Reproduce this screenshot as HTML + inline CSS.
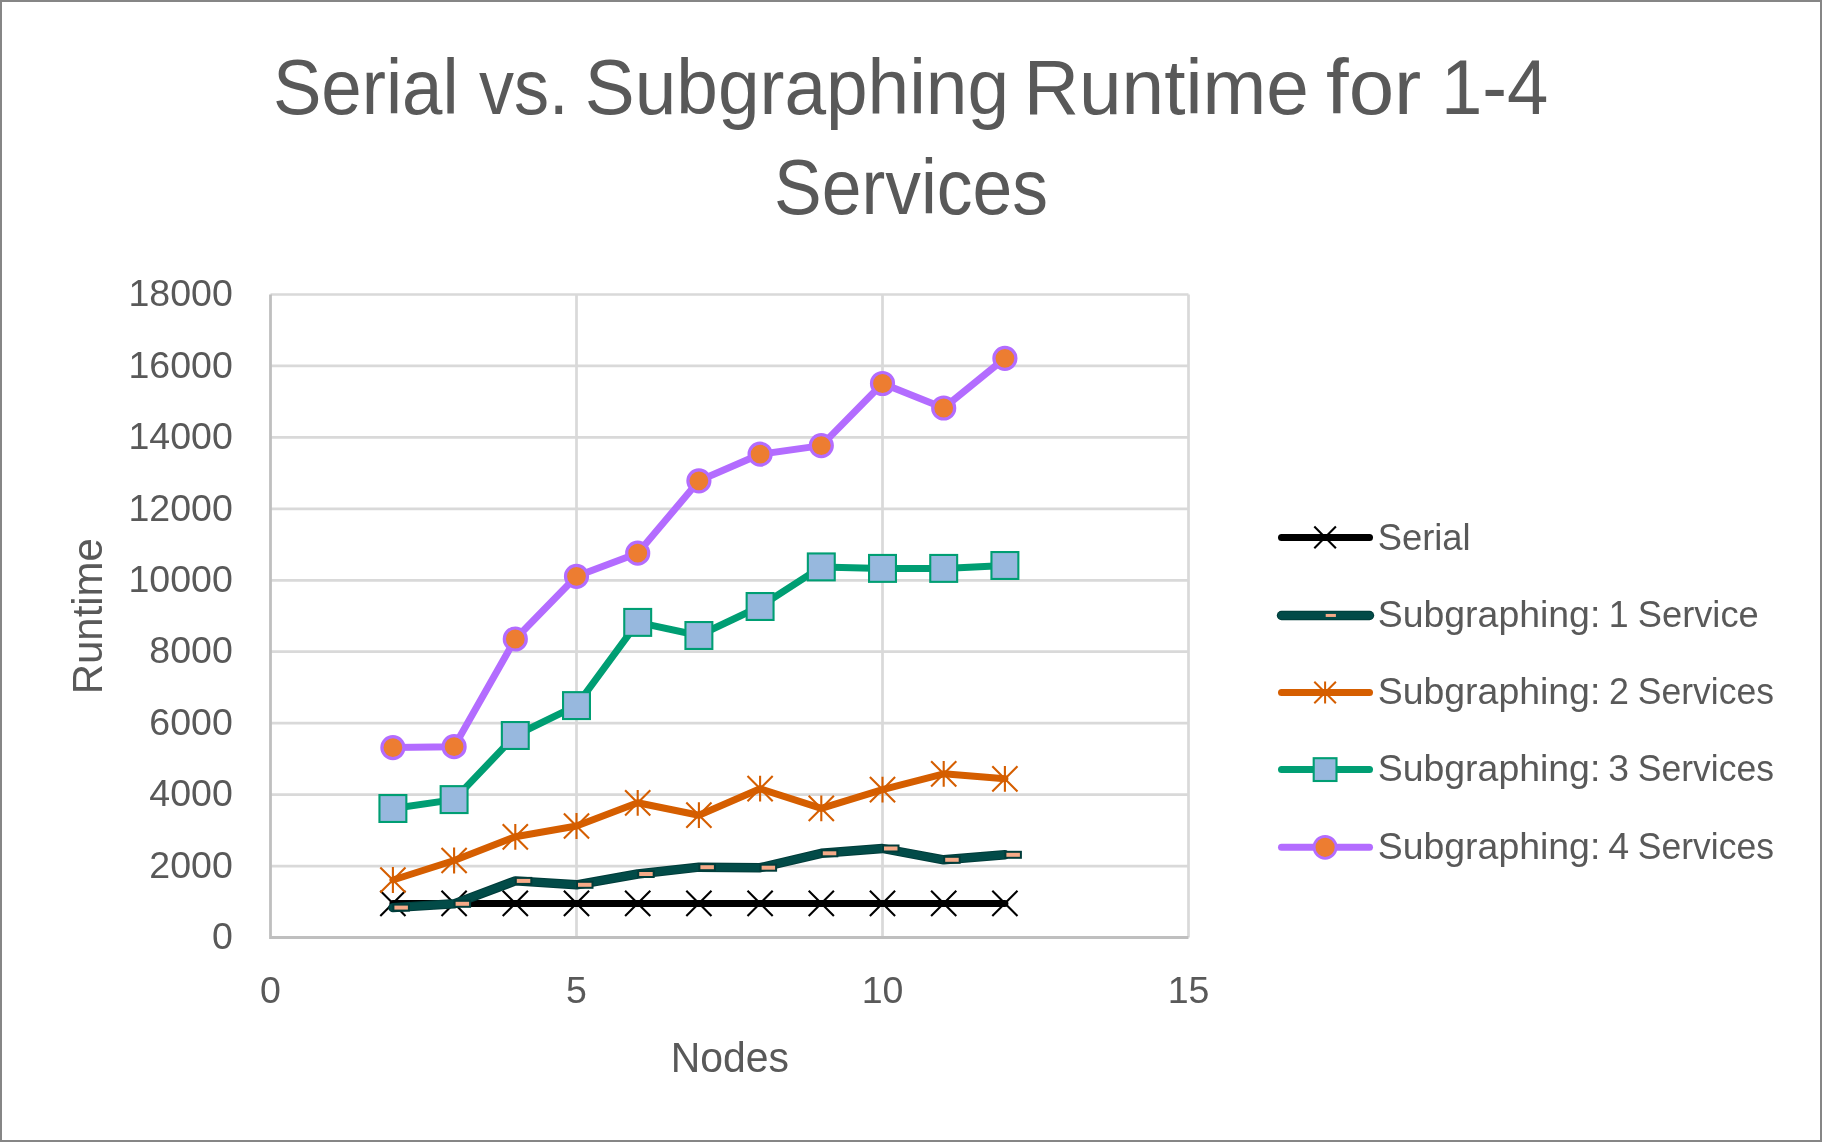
<!DOCTYPE html><html><head><meta charset="utf-8"><title>Serial vs. Subgraphing Runtime</title><style>html,body{margin:0;padding:0;background:#fff;width:1822px;height:1142px;overflow:hidden}svg{display:block;will-change:transform}text{font-family:"Liberation Sans",sans-serif;fill:#595959}</style></head><body>
<svg xmlns="http://www.w3.org/2000/svg" width="1822" height="1142" viewBox="0 0 1822 1142">
<rect x="0" y="0" width="1822" height="1142" fill="#fff"/>
<rect x="1" y="1" width="1820" height="1140" fill="none" stroke="#868686" stroke-width="2"/>
<text x="272.93" y="114.40" font-size="77" textLength="185.67" lengthAdjust="spacingAndGlyphs">Serial</text>
<text x="479.00" y="114.40" font-size="77" textLength="89.54" lengthAdjust="spacingAndGlyphs">vs.</text>
<text x="584.81" y="114.40" font-size="77" textLength="424.26" lengthAdjust="spacingAndGlyphs">Subgraphing</text>
<text x="1023.73" y="114.40" font-size="77" textLength="285.08" lengthAdjust="spacingAndGlyphs">Runtime</text>
<text x="1326.04" y="114.40" font-size="77" textLength="95.27" lengthAdjust="spacingAndGlyphs">for</text>
<text x="1440.91" y="114.40" font-size="77" textLength="107.41" lengthAdjust="spacingAndGlyphs">1-4</text>
<text x="774.09" y="213.90" font-size="77" textLength="273.84" lengthAdjust="spacingAndGlyphs">Services</text>
<text x="1377.68" y="549.80" font-size="37.8" textLength="92.96" lengthAdjust="spacingAndGlyphs">Serial</text>
<text x="1377.72" y="627.00" font-size="37.8" textLength="222.62" lengthAdjust="spacingAndGlyphs">Subgraphing:</text>
<text x="1608.87" y="627.00" font-size="37.8" textLength="19.85" lengthAdjust="spacingAndGlyphs">1</text>
<text x="1637.78" y="627.00" font-size="37.8" textLength="120.98" lengthAdjust="spacingAndGlyphs">Service</text>
<text x="1377.72" y="704.20" font-size="37.8" textLength="222.62" lengthAdjust="spacingAndGlyphs">Subgraphing:</text>
<text x="1609.01" y="704.20" font-size="37.8" textLength="19.92" lengthAdjust="spacingAndGlyphs">2</text>
<text x="1637.82" y="704.20" font-size="37.8" textLength="136.06" lengthAdjust="spacingAndGlyphs">Services</text>
<text x="1377.72" y="781.40" font-size="37.8" textLength="222.62" lengthAdjust="spacingAndGlyphs">Subgraphing:</text>
<text x="1608.22" y="781.40" font-size="37.8" textLength="20.78" lengthAdjust="spacingAndGlyphs">3</text>
<text x="1637.82" y="781.40" font-size="37.8" textLength="136.06" lengthAdjust="spacingAndGlyphs">Services</text>
<text x="1377.72" y="858.60" font-size="37.8" textLength="222.62" lengthAdjust="spacingAndGlyphs">Subgraphing:</text>
<text x="1608.21" y="858.60" font-size="37.8" textLength="20.92" lengthAdjust="spacingAndGlyphs">4</text>
<text x="1637.82" y="858.60" font-size="37.8" textLength="136.06" lengthAdjust="spacingAndGlyphs">Services</text>
<text x="670.70" y="1071.60" font-size="42.3" textLength="118.22" lengthAdjust="spacingAndGlyphs">Nodes</text>
<path d="M270.5 866.06H1188.5M270.5 794.61H1188.5M270.5 723.17H1188.5M270.5 651.72H1188.5M270.5 580.28H1188.5M270.5 508.83H1188.5M270.5 437.39H1188.5M270.5 365.94H1188.5M270.5 294.50H1188.5M576.5 294.5V937.5M882.5 294.5V937.5M1188.5 294.5V937.5" stroke="#D9D9D9" stroke-width="2.7" fill="none"/>
<path d="M270.5 294.5V937.5H1188.5" stroke="#BFBFBF" stroke-width="2.8" fill="none"/>
<text x="232.8" y="949.2" font-size="37.5" text-anchor="end">0</text>
<text x="232.8" y="877.8" font-size="37.5" text-anchor="end">2000</text>
<text x="232.8" y="806.3" font-size="37.5" text-anchor="end">4000</text>
<text x="232.8" y="734.9" font-size="37.5" text-anchor="end">6000</text>
<text x="232.8" y="663.4" font-size="37.5" text-anchor="end">8000</text>
<text x="232.8" y="592.0" font-size="37.5" text-anchor="end">10000</text>
<text x="232.8" y="520.5" font-size="37.5" text-anchor="end">12000</text>
<text x="232.8" y="449.1" font-size="37.5" text-anchor="end">14000</text>
<text x="232.8" y="377.6" font-size="37.5" text-anchor="end">16000</text>
<text x="232.8" y="306.2" font-size="37.5" text-anchor="end">18000</text>
<text x="270.5" y="1002.8" font-size="37.5" text-anchor="middle">0</text>
<text x="576.5" y="1002.8" font-size="37.5" text-anchor="middle">5</text>
<text x="882.5" y="1002.8" font-size="37.5" text-anchor="middle">10</text>
<text x="1188.5" y="1002.8" font-size="37.5" text-anchor="middle">15</text>
<text transform="translate(102.4 616.2) rotate(-90)" x="0" y="0" font-size="42.3" text-anchor="middle" textLength="156" lengthAdjust="spacingAndGlyphs">Runtime</text>
<polyline points="392.9,903.4 454.1,903.4 515.3,903.4 576.5,903.4 637.7,903.4 698.9,903.4 760.1,903.4 821.3,903.4 882.5,903.4 943.7,903.4 1004.9,903.4" fill="none" stroke="#000" stroke-width="7" stroke-linejoin="round" stroke-linecap="round"/>
<path d="M380.30 890.80L405.50 916.00M380.30 916.00L405.50 890.80" stroke="#000" stroke-width="2.1" fill="none"/>
<path d="M441.50 890.80L466.70 916.00M441.50 916.00L466.70 890.80" stroke="#000" stroke-width="2.1" fill="none"/>
<path d="M502.70 890.80L527.90 916.00M502.70 916.00L527.90 890.80" stroke="#000" stroke-width="2.1" fill="none"/>
<path d="M563.90 890.80L589.10 916.00M563.90 916.00L589.10 890.80" stroke="#000" stroke-width="2.1" fill="none"/>
<path d="M625.10 890.80L650.30 916.00M625.10 916.00L650.30 890.80" stroke="#000" stroke-width="2.1" fill="none"/>
<path d="M686.30 890.80L711.50 916.00M686.30 916.00L711.50 890.80" stroke="#000" stroke-width="2.1" fill="none"/>
<path d="M747.50 890.80L772.70 916.00M747.50 916.00L772.70 890.80" stroke="#000" stroke-width="2.1" fill="none"/>
<path d="M808.70 890.80L833.90 916.00M808.70 916.00L833.90 890.80" stroke="#000" stroke-width="2.1" fill="none"/>
<path d="M869.90 890.80L895.10 916.00M869.90 916.00L895.10 890.80" stroke="#000" stroke-width="2.1" fill="none"/>
<path d="M931.10 890.80L956.30 916.00M931.10 916.00L956.30 890.80" stroke="#000" stroke-width="2.1" fill="none"/>
<path d="M992.30 890.80L1017.50 916.00M992.30 916.00L1017.50 890.80" stroke="#000" stroke-width="2.1" fill="none"/>
<polyline points="392.9,907.6 454.1,903.8 515.3,880.9 576.5,884.8 637.7,874.0 698.9,867.2 760.1,867.7 821.3,853.3 882.5,848.5 943.7,859.8 1004.9,854.8" fill="none" stroke="#013C3A" stroke-width="9.4" stroke-linejoin="round" stroke-linecap="round"/>
<polyline points="392.9,907.6 454.1,903.8 515.3,880.9 576.5,884.8 637.7,874.0 698.9,867.2 760.1,867.7 821.3,853.3 882.5,848.5 943.7,859.8 1004.9,854.8" fill="none" stroke="#024B48" stroke-width="7.4" stroke-linejoin="round" stroke-linecap="round"/>
<rect x="393.40" y="904.60" width="15.50" height="6.00" fill="#F6AA88" stroke="#013C3A" stroke-width="2.00"/>
<rect x="454.60" y="900.80" width="15.50" height="6.00" fill="#F6AA88" stroke="#013C3A" stroke-width="2.00"/>
<rect x="515.80" y="877.90" width="15.50" height="6.00" fill="#F6AA88" stroke="#013C3A" stroke-width="2.00"/>
<rect x="577.00" y="881.80" width="15.50" height="6.00" fill="#F6AA88" stroke="#013C3A" stroke-width="2.00"/>
<rect x="638.20" y="871.00" width="15.50" height="6.00" fill="#F6AA88" stroke="#013C3A" stroke-width="2.00"/>
<rect x="699.40" y="864.20" width="15.50" height="6.00" fill="#F6AA88" stroke="#013C3A" stroke-width="2.00"/>
<rect x="760.60" y="864.70" width="15.50" height="6.00" fill="#F6AA88" stroke="#013C3A" stroke-width="2.00"/>
<rect x="821.80" y="850.30" width="15.50" height="6.00" fill="#F6AA88" stroke="#013C3A" stroke-width="2.00"/>
<rect x="883.00" y="845.50" width="15.50" height="6.00" fill="#F6AA88" stroke="#013C3A" stroke-width="2.00"/>
<rect x="944.20" y="856.80" width="15.50" height="6.00" fill="#F6AA88" stroke="#013C3A" stroke-width="2.00"/>
<rect x="1005.40" y="851.80" width="15.50" height="6.00" fill="#F6AA88" stroke="#013C3A" stroke-width="2.00"/>
<polyline points="392.9,880.0 454.1,860.5 515.3,836.8 576.5,826.0 637.7,802.8 698.9,815.2 760.1,788.7 821.3,808.4 882.5,789.6 943.7,773.8 1004.9,778.8" fill="none" stroke="#D55E00" stroke-width="7" stroke-linejoin="round" stroke-linecap="round"/>
<path d="M380.30 867.40L405.50 892.60M380.30 892.60L405.50 867.40M392.90 867.10L392.90 892.90" stroke="#D55E00" stroke-width="2.1" fill="none"/>
<path d="M441.50 847.90L466.70 873.10M441.50 873.10L466.70 847.90M454.10 847.60L454.10 873.40" stroke="#D55E00" stroke-width="2.1" fill="none"/>
<path d="M502.70 824.20L527.90 849.40M502.70 849.40L527.90 824.20M515.30 823.90L515.30 849.70" stroke="#D55E00" stroke-width="2.1" fill="none"/>
<path d="M563.90 813.40L589.10 838.60M563.90 838.60L589.10 813.40M576.50 813.10L576.50 838.90" stroke="#D55E00" stroke-width="2.1" fill="none"/>
<path d="M625.10 790.20L650.30 815.40M625.10 815.40L650.30 790.20M637.70 789.90L637.70 815.70" stroke="#D55E00" stroke-width="2.1" fill="none"/>
<path d="M686.30 802.60L711.50 827.80M686.30 827.80L711.50 802.60M698.90 802.30L698.90 828.10" stroke="#D55E00" stroke-width="2.1" fill="none"/>
<path d="M747.50 776.10L772.70 801.30M747.50 801.30L772.70 776.10M760.10 775.80L760.10 801.60" stroke="#D55E00" stroke-width="2.1" fill="none"/>
<path d="M808.70 795.80L833.90 821.00M808.70 821.00L833.90 795.80M821.30 795.50L821.30 821.30" stroke="#D55E00" stroke-width="2.1" fill="none"/>
<path d="M869.90 777.00L895.10 802.20M869.90 802.20L895.10 777.00M882.50 776.70L882.50 802.50" stroke="#D55E00" stroke-width="2.1" fill="none"/>
<path d="M931.10 761.20L956.30 786.40M931.10 786.40L956.30 761.20M943.70 760.90L943.70 786.70" stroke="#D55E00" stroke-width="2.1" fill="none"/>
<path d="M992.30 766.20L1017.50 791.40M992.30 791.40L1017.50 766.20M1004.90 765.90L1004.90 791.70" stroke="#D55E00" stroke-width="2.1" fill="none"/>
<polyline points="392.9,808.5 454.1,799.6 515.3,735.5 576.5,705.6 637.7,622.4 698.9,635.5 760.1,606.5 821.3,566.9 882.5,568.4 943.7,568.4 1004.9,565.5" fill="none" stroke="#009E73" stroke-width="7" stroke-linejoin="round" stroke-linecap="round"/>
<rect x="379.45" y="795.05" width="26.90" height="26.90" fill="#97B8DE" stroke="#009E73" stroke-width="2.1"/>
<rect x="440.65" y="786.15" width="26.90" height="26.90" fill="#97B8DE" stroke="#009E73" stroke-width="2.1"/>
<rect x="501.85" y="722.05" width="26.90" height="26.90" fill="#97B8DE" stroke="#009E73" stroke-width="2.1"/>
<rect x="563.05" y="692.15" width="26.90" height="26.90" fill="#97B8DE" stroke="#009E73" stroke-width="2.1"/>
<rect x="624.25" y="608.95" width="26.90" height="26.90" fill="#97B8DE" stroke="#009E73" stroke-width="2.1"/>
<rect x="685.45" y="622.05" width="26.90" height="26.90" fill="#97B8DE" stroke="#009E73" stroke-width="2.1"/>
<rect x="746.65" y="593.05" width="26.90" height="26.90" fill="#97B8DE" stroke="#009E73" stroke-width="2.1"/>
<rect x="807.85" y="553.45" width="26.90" height="26.90" fill="#97B8DE" stroke="#009E73" stroke-width="2.1"/>
<rect x="869.05" y="554.95" width="26.90" height="26.90" fill="#97B8DE" stroke="#009E73" stroke-width="2.1"/>
<rect x="930.25" y="554.95" width="26.90" height="26.90" fill="#97B8DE" stroke="#009E73" stroke-width="2.1"/>
<rect x="991.45" y="552.05" width="26.90" height="26.90" fill="#97B8DE" stroke="#009E73" stroke-width="2.1"/>
<polyline points="392.9,747.6 454.1,746.7 515.3,639.0 576.5,576.3 637.7,553.2 698.9,480.8 760.1,454.2 821.3,445.6 882.5,383.5 943.7,408.0 1004.9,358.3" fill="none" stroke="#B36CFF" stroke-width="7" stroke-linejoin="round" stroke-linecap="round"/>
<circle cx="392.90" cy="747.60" r="11.00" fill="#ED7D31" stroke="#B36CFF" stroke-width="3.2"/>
<circle cx="454.10" cy="746.70" r="11.00" fill="#ED7D31" stroke="#B36CFF" stroke-width="3.2"/>
<circle cx="515.30" cy="639.00" r="11.00" fill="#ED7D31" stroke="#B36CFF" stroke-width="3.2"/>
<circle cx="576.50" cy="576.30" r="11.00" fill="#ED7D31" stroke="#B36CFF" stroke-width="3.2"/>
<circle cx="637.70" cy="553.20" r="11.00" fill="#ED7D31" stroke="#B36CFF" stroke-width="3.2"/>
<circle cx="698.90" cy="480.80" r="11.00" fill="#ED7D31" stroke="#B36CFF" stroke-width="3.2"/>
<circle cx="760.10" cy="454.20" r="11.00" fill="#ED7D31" stroke="#B36CFF" stroke-width="3.2"/>
<circle cx="821.30" cy="445.60" r="11.00" fill="#ED7D31" stroke="#B36CFF" stroke-width="3.2"/>
<circle cx="882.50" cy="383.50" r="11.00" fill="#ED7D31" stroke="#B36CFF" stroke-width="3.2"/>
<circle cx="943.70" cy="408.00" r="11.00" fill="#ED7D31" stroke="#B36CFF" stroke-width="3.2"/>
<circle cx="1004.90" cy="358.30" r="11.00" fill="#ED7D31" stroke="#B36CFF" stroke-width="3.2"/>
<path d="M1281.5 537.4H1369.5" stroke="#000" stroke-width="7" stroke-linecap="round"/>
<path d="M1314.30 526.60L1335.90 548.20M1314.30 548.20L1335.90 526.60" stroke="#000" stroke-width="2.1" fill="none"/>
<path d="M1281.5 615.45H1369.5" stroke="#013C3A" stroke-width="9.4" stroke-linecap="round"/>
<path d="M1281.5 615.45H1369.5" stroke="#024B48" stroke-width="7.4" stroke-linecap="round"/>
<rect x="1325.70" y="613.95" width="10.2" height="3" fill="#F6AA88"/>
<path d="M1281.5 692.5H1369.5" stroke="#D55E00" stroke-width="7" stroke-linecap="round"/>
<path d="M1314.30 681.70L1335.90 703.30M1314.30 703.30L1335.90 681.70M1325.10 681.60L1325.10 703.40" stroke="#D55E00" stroke-width="2.0" fill="none"/>
<path d="M1281.5 769.6H1369.5" stroke="#009E73" stroke-width="7" stroke-linecap="round"/>
<rect x="1313.70" y="758.20" width="22.80" height="22.80" fill="#97B8DE" stroke="#009E73" stroke-width="2.1"/>
<path d="M1281.5 847.3H1369.5" stroke="#B36CFF" stroke-width="7" stroke-linecap="round"/>
<circle cx="1325.10" cy="847.30" r="11.00" fill="#ED7D31" stroke="#B36CFF" stroke-width="2.8"/>
</svg></body></html>
